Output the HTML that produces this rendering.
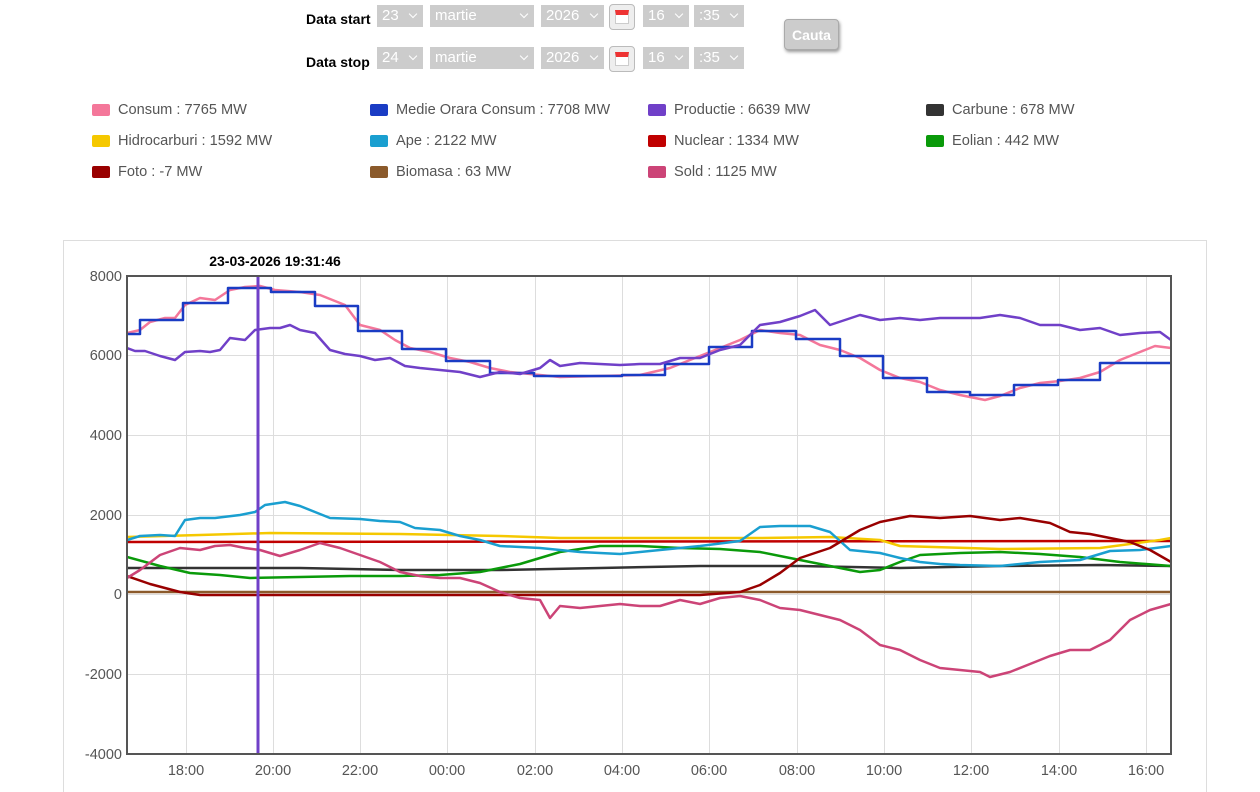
<!DOCTYPE html>
<html><head><meta charset="utf-8"><style>
body{margin:0;width:1260px;height:792px;background:#fff;font-family:"Liberation Sans",Arial,sans-serif;overflow:hidden;position:relative}
.lbl{position:absolute;font-weight:bold;font-size:14px;color:#000}
.sel{position:absolute;height:22px;background:#ccc;color:#fff;font-size:15px;line-height:22px;padding-left:5px;box-sizing:border-box}
.sel:after{content:"";position:absolute;right:7px;top:6px;width:5px;height:5px;border-right:1.5px solid #fff;border-bottom:1.5px solid #fff;transform:rotate(45deg)}
.cal{position:absolute;width:26px;height:26px;background:#eee;border:1px solid #bbb;border-radius:4px;box-sizing:border-box}
.cal:before{content:"";position:absolute;left:5px;top:5px;width:14px;height:14px;background:#fff;border:1px solid #ccc;border-top:5px solid #e33;box-sizing:border-box}
.leg{position:absolute;font-size:14.6px;color:#555}
.leg i{position:absolute;left:0;top:2px;width:18px;height:12px;border-radius:2px}
.leg span{position:absolute;left:26px;top:0;white-space:nowrap}
</style></head><body>
<div class="lbl" style="left:306px;top:11px">Data start</div>
<div class="lbl" style="left:306px;top:54px">Data stop</div>
<div class="sel" style="left:377px;top:5px;width:46px">23</div>
<div class="sel" style="left:430px;top:5px;width:104px">martie</div>
<div class="sel" style="left:541px;top:5px;width:63px">2026</div>
<div class="cal" style="left:609px;top:4px"></div>
<div class="sel" style="left:643px;top:5px;width:46px">16</div>
<div class="sel" style="left:694px;top:5px;width:50px">:35</div>
<div class="sel" style="left:377px;top:47px;width:46px">24</div>
<div class="sel" style="left:430px;top:47px;width:104px">martie</div>
<div class="sel" style="left:541px;top:47px;width:63px">2026</div>
<div class="cal" style="left:609px;top:46px"></div>
<div class="sel" style="left:643px;top:47px;width:46px">16</div>
<div class="sel" style="left:694px;top:47px;width:50px">:35</div>
<div style="position:absolute;left:784px;top:19px;width:55px;height:31px;background:#ccc;border:1px solid #aaa;border-radius:4px;box-shadow:1px 2px 3px #999;color:#fff;font-weight:bold;font-size:14px;text-align:center;line-height:31px;box-sizing:border-box">Cauta</div>

<div class="leg" style="left:92px;top:102px"><i style="background:#f4779a"></i><span>Consum : 7765 MW</span></div>
<div class="leg" style="left:370px;top:102px"><i style="background:#1a3cc4"></i><span>Medie Orara Consum : 7708 MW</span></div>
<div class="leg" style="left:648px;top:102px"><i style="background:#7040c8"></i><span>Productie : 6639 MW</span></div>
<div class="leg" style="left:926px;top:102px"><i style="background:#333"></i><span>Carbune : 678 MW</span></div>
<div class="leg" style="left:92px;top:133px"><i style="background:#f5c800"></i><span>Hidrocarburi : 1592 MW</span></div>
<div class="leg" style="left:370px;top:133px"><i style="background:#1a9fd0"></i><span>Ape : 2122 MW</span></div>
<div class="leg" style="left:648px;top:133px"><i style="background:#c00000"></i><span>Nuclear : 1334 MW</span></div>
<div class="leg" style="left:926px;top:133px"><i style="background:#0a9a0a"></i><span>Eolian : 442 MW</span></div>
<div class="leg" style="left:92px;top:164px"><i style="background:#900"></i><span>Foto : -7 MW</span></div>
<div class="leg" style="left:370px;top:164px"><i style="background:#8b5a2b"></i><span>Biomasa : 63 MW</span></div>
<div class="leg" style="left:648px;top:164px"><i style="background:#cc4477"></i><span>Sold : 1125 MW</span></div>

<svg style="position:absolute;left:0;top:0" width="1260" height="792" font-family="Liberation Sans,Arial,sans-serif">
<rect x="63.5" y="240.5" width="1143" height="560" fill="#fff" stroke="#ddd"/>
<g stroke="#ddd" stroke-width="1">
<line x1="127" y1="355.5" x2="1171" y2="355.5"/><line x1="127" y1="435.5" x2="1171" y2="435.5"/><line x1="127" y1="515.5" x2="1171" y2="515.5"/><line x1="127" y1="594.5" x2="1171" y2="594.5"/><line x1="127" y1="674.5" x2="1171" y2="674.5"/>
<line x1="186.5" y1="276" x2="186.5" y2="754"/><line x1="273.5" y1="276" x2="273.5" y2="754"/><line x1="360.5" y1="276" x2="360.5" y2="754"/><line x1="447.5" y1="276" x2="447.5" y2="754"/><line x1="535.5" y1="276" x2="535.5" y2="754"/><line x1="622.5" y1="276" x2="622.5" y2="754"/><line x1="709.5" y1="276" x2="709.5" y2="754"/><line x1="797.5" y1="276" x2="797.5" y2="754"/><line x1="884.5" y1="276" x2="884.5" y2="754"/><line x1="971.5" y1="276" x2="971.5" y2="754"/><line x1="1059.5" y1="276" x2="1059.5" y2="754"/><line x1="1146.5" y1="276" x2="1146.5" y2="754"/>
</g>
<g font-size="14.5" fill="#555" text-anchor="end">
<text x="122" y="281">8000</text><text x="122" y="360">6000</text><text x="122" y="440">4000</text><text x="122" y="520">2000</text><text x="122" y="599">0</text><text x="122" y="679">-2000</text><text x="122" y="759">-4000</text>
</g>
<g font-size="14.5" fill="#555" text-anchor="middle">
<text x="186" y="775">18:00</text><text x="273" y="775">20:00</text><text x="360" y="775">22:00</text><text x="447" y="775">00:00</text><text x="535" y="775">02:00</text><text x="622" y="775">04:00</text><text x="709" y="775">06:00</text><text x="797" y="775">08:00</text><text x="884" y="775">10:00</text><text x="971" y="775">12:00</text><text x="1059" y="775">14:00</text><text x="1146" y="775">16:00</text>
</g>
<g fill="none" stroke-linejoin="round" stroke-width="2.5">
<polyline stroke="#8b5a2b" points="127,592 1171,592"/>
<polyline stroke="#c00000" points="127,542 1171,541"/>
<polyline stroke="#333" points="127,568 300,568 400,570 500,570 600,568 700,566 800,566 900,568 1000,566 1100,565 1171,566"/>
<polyline stroke="#f5c800" points="127,537 200,535 270,533 400,534 500,536 560,538 620,538 700,538 760,538 830,537 880,540 900,546 1000,549 1100,548 1160,540 1171,538"/>
<polyline stroke="#0a9a0a" points="127,557 160,566 190,573 220,575 250,578 300,577 350,576 400,576 440,575 480,572 520,564 560,552 600,546 640,546 680,548 720,549 760,552 790,558 830,566 860,572 880,570 900,562 920,555 960,553 1000,552 1040,554 1080,557 1120,562 1171,566"/>
<polyline stroke="#1a9fd0" points="127,540 140,536 160,535 175,536 185,520 200,518 215,518 240,515 255,512 265,505 285,502 300,506 315,512 330,518 360,519 380,521 400,522 415,528 440,530 460,536 480,540 500,546 540,548 580,552 620,554 660,550 700,546 740,541 760,527 780,526 810,526 830,532 850,550 880,553 900,558 920,562 940,564 960,565 1000,566 1040,562 1080,560 1110,551 1140,550 1171,546"/>
<polyline stroke="#990000" points="127,576 150,584 180,592 200,595 700,595 740,592 760,585 780,573 800,558 830,548 860,530 880,522 910,516 940,518 970,516 1000,520 1020,518 1050,523 1070,532 1090,534 1110,538 1130,542 1150,550 1171,562"/>
<polyline stroke="#cc4477" points="127,578 140,570 160,555 180,548 200,550 215,546 230,545 245,548 260,550 280,556 300,550 320,543 340,548 360,555 380,562 400,572 420,576 440,578 460,578 480,583 500,592 520,598 540,600 550,618 560,606 580,608 600,606 620,604 640,606 660,606 680,600 700,604 720,598 740,596 760,600 780,608 800,610 820,615 840,620 860,630 880,645 900,650 920,660 940,668 960,670 980,672 990,677 1010,672 1030,664 1050,656 1070,650 1090,650 1110,640 1130,620 1150,610 1171,604"/>
<polyline stroke="#f4779a" points="127,333 140,330 150,322 165,318 175,318 185,305 200,298 215,300 230,290 245,287 260,286 275,290 300,292 320,295 345,305 360,325 380,330 395,340 410,348 430,352 450,358 470,362 490,368 510,372 530,374 560,377 600,376 640,375 670,368 700,356 720,348 740,340 760,330 780,333 800,335 820,345 840,350 860,358 880,370 900,378 920,382 940,390 960,395 985,400 1000,396 1020,388 1040,383 1060,381 1080,378 1100,372 1120,360 1140,352 1155,346 1171,348"/>
<polyline stroke="#1a3cc4" points="127,334 140,334 140,320 183,320 183,303 228,303 228,288 271,288 271,292 315,292 315,306 358,306 358,331 402,331 402,349 446,349 446,361 490,361 490,373 534,373 534,376 622,376 622,375 665,375 665,364 709,364 709,347 752,347 752,331 796,331 796,339 840,339 840,356 883,356 883,378 927,378 927,392 970,392 970,395 1014,395 1014,385 1058,385 1058,380 1100,380 1100,363 1171,363"/>
<polyline stroke="#7040c8" points="127,348 135,351 145,351 160,356 175,360 185,352 200,351 210,352 220,350 230,338 245,340 255,330 270,328 280,328 290,325 300,330 315,333 330,350 345,354 360,356 375,360 390,358 405,366 420,368 440,370 460,372 480,377 500,372 520,374 540,368 550,360 560,366 580,363 600,364 620,365 640,364 660,364 680,358 700,358 720,350 740,345 760,325 780,322 800,316 815,310 830,325 845,320 860,315 880,320 900,318 920,320 940,318 960,318 980,318 1000,315 1020,318 1040,325 1060,325 1080,330 1100,328 1120,335 1140,333 1160,332 1171,340"/>
</g>
<line x1="258" y1="276" x2="258" y2="754" stroke="#7040c8" stroke-width="3"/>
<rect x="127" y="276" width="1044" height="478" fill="none" stroke="#555" stroke-width="2"/>
<text x="275" y="266" font-size="14" font-weight="bold" text-anchor="middle" fill="#000">23-03-2026 19:31:46</text>
</svg>
</body></html>
